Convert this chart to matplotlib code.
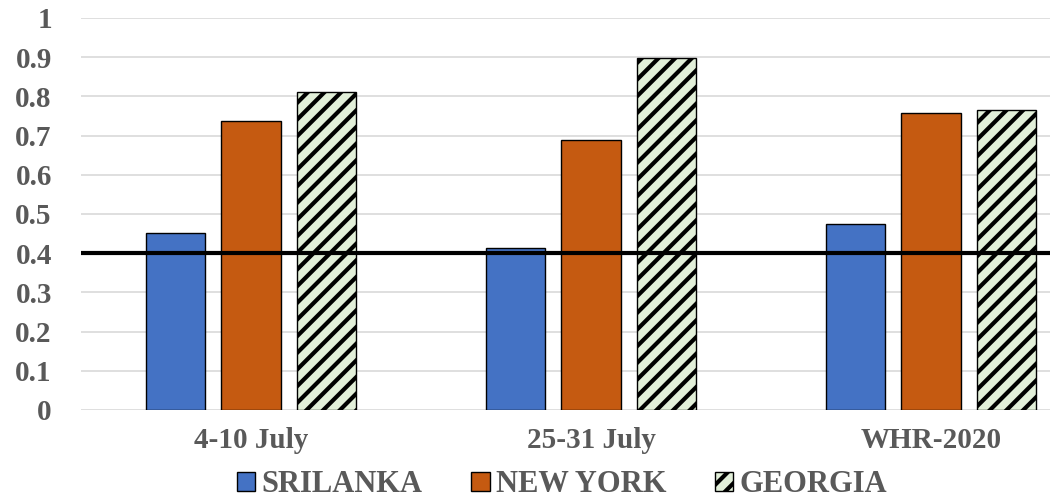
import numpy as np
import matplotlib.pyplot as plt

# data
categories = ['4-10 July', '25-31 July', 'WHR-2020']
srilanka = [0.452, 0.412, 0.475]
new_york = [0.738, 0.69, 0.758]
georgia = [0.81, 0.898, 0.765]
threshold = 0.4

plt.rcParams['font.family'] = ['Liberation Serif', 'DejaVu Serif']
plt.rcParams['hatch.linewidth'] = 3.0

fig = plt.figure(figsize=(10.55, 5), dpi=100)
ax = fig.add_axes([81/1055, 0.18, (1050-81)/1055, 0.784])

x = np.arange(len(categories))
w = 0.174
off = 0.222
ax.bar(x - off, srilanka, w, color='#4472c4', edgecolor='black', linewidth=1, label='SRILANKA', zorder=3)
ax.bar(x, new_york, w, color='#c55a11', edgecolor='black', linewidth=1, label='NEW YORK', zorder=3)
ax.bar(x + off, georgia, w, color='#e2efd9', edgecolor='black', linewidth=1, hatch='//', label='GEORGIA', zorder=3)

ax.axhline(threshold, color='black', lw=3, zorder=4)

ax.set_ylim(0, 1)
ax.set_xlim(-0.5, 2.35)
ax.set_yticks(np.arange(0, 1.01, 0.1))
ax.set_yticklabels(['0'] + ['%.1f' % v for v in np.arange(0.1, 0.95, 0.1)] + ['1'])
ax.yaxis.grid(True, color='#d9d9d9', lw=1.2, zorder=0)
ax.set_xticks(x)
ax.set_xticklabels(categories)
for s in ax.spines.values():
    s.set_visible(False)
ax.tick_params(length=0, labelsize=21, labelcolor='#595959', pad=12)
ax.tick_params(axis='y', pad=21)
for t in ax.get_xticklabels() + ax.get_yticklabels():
    t.set_fontweight('bold')

leg = fig.legend(loc='center', bbox_to_anchor=(562/1055, 1 - 485/500), ncol=3, frameon=False,
                 prop={'size': 22, 'weight': 'bold'}, handlelength=0.6, handleheight=0.6,
                 handletextpad=0.2, columnspacing=1.6, labelcolor='#595959', borderpad=0.1)

fig.savefig('out.png', dpi=100)
